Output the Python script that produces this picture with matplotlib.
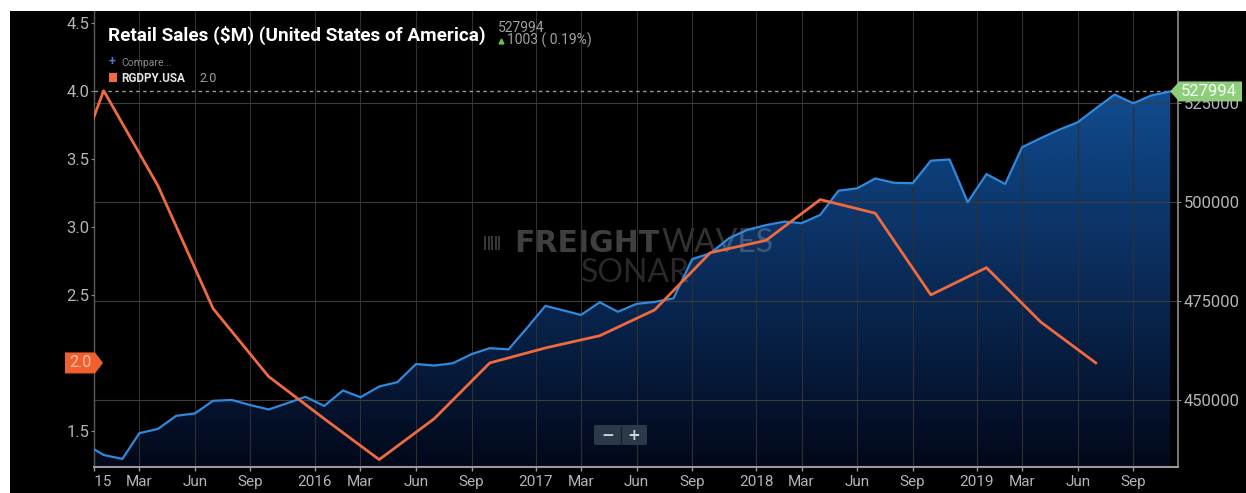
import numpy as np
import pandas as pd
import matplotlib
matplotlib.use("Agg")
import matplotlib.pyplot as plt
import matplotlib.dates as mdates
from matplotlib.patches import Polygon, Rectangle, FancyBboxPatch
from matplotlib.lines import Line2D
from matplotlib.transforms import Bbox, TransformedBbox
from matplotlib.colors import LinearSegmentedColormap

W, H = 1246, 493

# Monthly retail sales ($M), first month Dec 2014
retail_start = "2014-12-01"
retail_sales = [
    438900,
    436100, 435100, 441600, 442700, 446000, 446600, 449800, 450000, 448700, 447600, 449200, 450800,
    448500, 452400, 450700, 453400, 454500, 459100, 458700, 459300, 461600, 463100, 462800, 468100,
    473800, 472600, 471500, 474700, 472300, 474300, 474800, 475700, 485600, 487100, 490900, 493000,
    494200, 495100, 494700, 496800, 502900, 503500, 506000, 504900, 504800, 510500, 510800, 500000,
    507100, 504600, 513900, 516200, 518300, 520200, 523700, 527200, 525000, 526991, 527994,
]

# Quarterly real GDP growth (% y/y), first quarter Q4 2014
gdp_start = "2014-10-01"
gdp_yoy = [2.9, 4.0, 3.30, 2.40, 1.90, 1.59, 1.29, 1.59, 2.00, 2.11, 2.20, 2.39,
           2.81, 2.90, 3.20, 3.10, 2.50, 2.70, 2.30, 2.0]

year_labels = ["2015", "2016", "2017", "2018", "2019"]
quarter_labels = ["Mar", "Jun", "Sep"]
retail_ticks = [450000, 475000, 500000, 525000]
gdp_ticks = [1.5, 2.0, 2.5, 3.0, 3.5, 4.0, 4.5]

plt.rcParams["font.family"] = ["Roboto", "DejaVu Sans"]


def fx(px):
    return px / W


def fy(py):
    return 1 - py / H


fig = plt.figure(figsize=(W / 100, H / 100), dpi=100, facecolor="white")
fig.add_artist(Rectangle((fx(10), 0), 1 - fx(10), fy(11), transform=fig.transFigure,
                         facecolor="black", edgecolor="none", zorder=-5))

ax = fig.add_axes([fx(94), fy(467), fx(1178) - fx(94), fy(11) - fy(467)])
ax.set_facecolor("black")
ax2 = ax.twinx()

x_r = mdates.date2num(pd.date_range(retail_start, periods=len(retail_sales), freq="MS"))
x_g = mdates.date2num(pd.date_range(gdp_start, periods=len(gdp_yoy), freq="QS"))

xmin = mdates.date2num(pd.Timestamp("2014-12-16"))
xmax = mdates.date2num(pd.Timestamp("2019-11-14"))
r_lo, r_hi = 433060, 548330
g_lo, g_hi = 1.2355, 4.5855

# blue gradient under the retail line
cmap = LinearSegmentedColormap.from_list("fill", ["#02081a", "#0a2b58", "#114c90"])
grad = np.linspace(0, 1, 256).reshape(-1, 1)
im = ax.imshow(grad, extent=[xmin, xmax, r_lo, 528500], origin="lower",
               aspect="auto", cmap=cmap, zorder=-1)
area = ax.fill_between(x_r, retail_sales, r_lo, facecolor="none", edgecolor="none")
im.set_clip_path(area.get_paths()[0], transform=ax.transData)

# watermark sits over the fill but behind the series
wm = dict(transform=fig.transFigure, color="white", va="baseline", zorder=1.2, clip_on=False)
for bx in [484, 487.5, 491, 494.5, 498]:
    ax.add_artist(Rectangle((fx(bx), fy(250)), fx(2), 14 / H, transform=fig.transFigure,
                            facecolor="white", alpha=0.22, edgecolor="none", zorder=1.2))
ax.text(fx(659), fy(252), "FREIGHT", fontsize=21.5, fontweight="bold", alpha=0.25,
        family=["DejaVu Sans"], ha="right", **wm)
ax.text(fx(661), fy(252), "WAVES", fontsize=23, fontweight="normal", alpha=0.2,
        family=["Lato", "DejaVu Sans"], ha="left", **wm)
ax.text(fx(635), fy(282), "SONAR", fontsize=23, fontweight="normal", alpha=0.16,
        family=["Lato", "DejaVu Sans"], ha="center", **wm)

ax.plot(x_r, retail_sales, color="#3089da", lw=1.6, zorder=3)
ax.axhline(retail_sales[-1], color="#9a9a9a", lw=1, ls=(0, (2.5, 2.5)), zorder=2)

ax.set_xlim(xmin, xmax)
ax.set_ylim(r_lo, r_hi)

# x ticks: year ticks mid-December, quarter months on the 1st
tick_pos, tick_lab = [], []
for yl in year_labels:
    yr = int(yl)
    tick_pos.append(mdates.date2num(pd.Timestamp(f"{yr - 1}-12-16")))
    tick_lab.append(yl)
    for m, ml in zip([3, 6, 9], quarter_labels):
        tick_pos.append(mdates.date2num(pd.Timestamp(f"{yr}-{m:02d}-01")))
        tick_lab.append(ml)
ax.set_xticks(tick_pos, labels=tick_lab)
ax.tick_params(axis="x", length=3, width=1, color="#9a9a9a", labelcolor="#b4b4b4",
               labelsize=11, pad=2.5)
clip = TransformedBbox(Bbox([[0, -0.3], [1, 1]]), ax.transAxes)
for lbl in ax.get_xticklabels():
    lbl.set_clip_box(clip)
    lbl.set_clip_on(True)

# retail scale on the right
ax.yaxis.tick_right()
ax.set_yticks(retail_ticks, labels=[str(v) for v in retail_ticks])
ax.tick_params(axis="y", left=False, right=True, labelleft=False, labelright=True,
               length=2.5, width=0.8, color="#8a8a8a", labelcolor="#b4b4b4",
               labelsize=12, pad=1.5)
ax.grid(axis="x", color="#303030", lw=0.8)
ax.grid(axis="y", color="#3c3c3c", lw=0.8)

ax.spines["top"].set_visible(False)
ax.spines["right"].set_color("#8c8c8c")
ax.spines["right"].set_linewidth(1.2)
ax.spines["bottom"].set_color("#9a9a9a")
ax.spines["bottom"].set_linewidth(1.5)
ax.spines["left"].set_color("#5a5a5a")
ax.spines["left"].set_linewidth(1)

# GDP scale on the left; the 2.0 label sits under the value tag
ax2.plot(x_g, gdp_yoy, color="#ef6a3f", lw=2.0, zorder=3)
ax2.set_xlim(xmin, xmax)
ax2.set_ylim(g_lo, g_hi)
ax2.yaxis.tick_left()
ax2.set_yticks(gdp_ticks, labels=["" if v == gdp_yoy[-1] else f"{v:.1f}" for v in gdp_ticks])
ax2.tick_params(axis="y", left=True, right=False, labelleft=True, labelright=False,
                length=2.5, width=0.8, color="#8a8a8a", labelcolor="#b4b4b4",
                labelsize=12, pad=1)
for s in ax2.spines.values():
    s.set_visible(False)

# title block
fig.text(fx(108), fy(40.5), "Retail Sales ($M) (United States of America)", fontsize=13.7,
         fontweight="bold", color="white", va="baseline")
fig.text(fx(498), fy(31.7), f"{retail_sales[-1]}", fontsize=10, color="#a0a0a0",
         va="baseline")
change = retail_sales[-1] - retail_sales[-2]
fig.add_artist(Line2D([fx(500.5)], [fy(40.5)], marker="^", ms=3.5, color="#6cc04a",
                      transform=fig.transFigure))
fig.text(fx(507), fy(45), f"{change} ( {change / retail_sales[-2] * 100:.2f}%)",
         fontsize=10, color="#a0a0a0", va="baseline")

# legend rows
fig.text(fx(112.5), fy(62), "+", fontsize=9, fontweight="bold", color="#4a78d8",
         ha="center", va="center")
fig.text(fx(121), fy(65.7), "Compare...", fontsize=7.5, color="#8c8c8c", va="baseline")
fig.add_artist(Rectangle((fx(109), fy(81.7)), fx(8), 9 / H, transform=fig.transFigure,
                         facecolor="#ef6a3f", edgecolor="none"))
fig.text(fx(121), fy(81.7), "RGDPY.USA", fontsize=8.5, fontweight="bold", color="#e6e6e6",
         va="baseline")
fig.text(fx(199), fy(81.7), f"{gdp_yoy[-1]:.1f}", fontsize=9, color="#a0a0a0", va="baseline")

# zoom buttons
fig.add_artist(FancyBboxPatch((fx(594), fy(445)), fx(53), 20 / H,
                              boxstyle="round,pad=0,rounding_size=0.002",
                              transform=fig.transFigure, facecolor="#2b3a48", edgecolor="none"))
fig.add_artist(Line2D([fx(620.7), fx(620.7)], [fy(444), fy(426)], color="#18222c", lw=1,
                      transform=fig.transFigure))
fig.text(fx(607.5), fy(435), "\u2212", fontsize=11, fontweight="bold", color="#d0d6dc",
         family=["DejaVu Sans"], ha="center", va="center")
fig.text(fx(634), fy(435), "+", fontsize=11, fontweight="bold", color="#d0d6dc",
         family=["DejaVu Sans"], ha="center", va="center")

# value tag on the left axis for the latest GDP reading
gy = H - ax2.transData.transform((xmin, gdp_yoy[-1]))[1]
tag = [(65, gy - 10.5), (95, gy - 10.5), (103, gy), (95, gy + 10.5), (65, gy + 10.5)]
fig.add_artist(Polygon([(fx(a), fy(b)) for a, b in tag], closed=True, transform=fig.transFigure,
                       facecolor="#f0602e", edgecolor="none", zorder=4))
fig.text(fx(80), fy(gy), f"{gdp_yoy[-1]:.1f}", fontsize=11.5, color="#ffc2a6",
         ha="center", va="center", zorder=5)

# value tag on the right axis for the latest retail reading
rx, ry = ax.transData.transform((x_r[-1], retail_sales[-1]))
ry = H - ry
tag = [(rx, ry), (rx + 9, ry - 10), (1242, ry - 10), (1242, ry + 10), (rx + 9, ry + 10)]
fig.add_artist(Polygon([(fx(a), fy(b)) for a, b in tag], closed=True, transform=fig.transFigure,
                       facecolor="#8fcd7c", edgecolor="none", zorder=4))
fig.text(fx(1181), fy(ry), f"{retail_sales[-1]}", fontsize=12, color="#f2fff0",
         ha="left", va="center", zorder=5)

fig.savefig("out.png", dpi=100, facecolor=fig.get_facecolor())
